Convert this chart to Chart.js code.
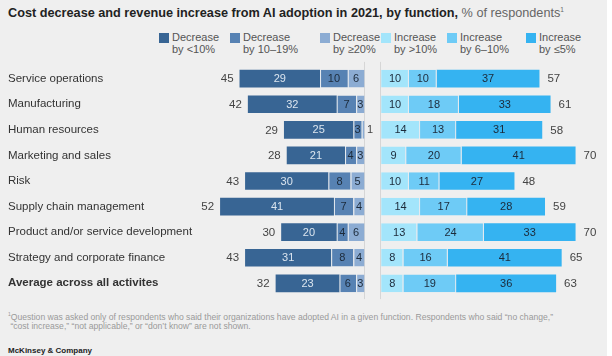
<!DOCTYPE html>
<html lang="en">
<head>
<meta charset="UTF-8">
<title>Cost decrease and revenue increase from AI adoption in 2021</title>
<script src="https://cdn.jsdelivr.net/npm/chart.js"></script>
<style>
    html, body { margin: 0; padding: 0; background: #ffffff; }
    .frame {
        position: relative;
        width: 607px;
        height: 356px;
        background: #efefef;
        font-family: 'Liberation Sans', Arial, sans-serif;
        overflow: hidden;
    }
    .title {
        position: absolute; left: 8px; top: 6px;
        font-size: 12.7px; font-weight: bold; color: #222;
        white-space: nowrap;
    }
    .title span { font-weight: normal; color: #666; }
    .title sup { font-size: 6.5px; }
    .legend-item {
        position: absolute; top: 31px;
        font-size: 11px; line-height: 12px; color: #555;
        padding-left: 13px;
    }
    .legend-item i {
        position: absolute; left: 0; top: 2px;
        width: 10px; height: 10px;
    }
    #chartBox { position: absolute; left: 0; top: 56px; width: 607px; height: 250px; }
    .note {
        position: absolute; left: 8px; top: 310px;
        font-size: 8.6px; line-height: 9px; color: #9a9a9a;
        white-space: nowrap;
    }
    .source {
        position: absolute; left: 8px; top: 346px;
        font-size: 8px; font-weight: bold; color: #222;
    }
</style>
</head>
<body>
<div class="frame">
    <div class="title">Cost decrease and revenue increase from AI adoption in 2021, by function, <span>% of respondents<sup>1</sup></span></div>
    <div id="legend"></div>
    <div id="chartBox"><canvas id="grafico"></canvas></div>
    <div class="note"><sup style="font-size:5px">1</sup>Question was asked only of respondents who said their organizations have adopted AI in a given function. Respondents who said “no change,”<br>&nbsp;“cost increase,” “not applicable,” or “don’t know” are not shown.</div>
    <div class="source">McKinsey &amp; Company</div>
</div>

<script>
    // data
    const funciones = [
        'Service operations', 'Manufacturing', 'Human resources', 'Marketing and sales', 'Risk',
        'Supply chain management', 'Product and/or service development', 'Strategy and corporate finance',
        'Average across all activites'
    ];
    const decMenos10 = [29, 32, 25, 21, 30, 41, 20, 31, 23];
    const dec10a19   = [10, 7, 3, 4, 8, 7, 4, 8, 6];
    const dec20mas   = [6, 3, 1, 3, 5, 4, 6, 4, 3];
    const incMas10   = [10, 10, 14, 9, 10, 14, 13, 8, 8];
    const inc6a10    = [10, 18, 13, 20, 11, 17, 24, 16, 19];
    const inc5menos  = [37, 33, 31, 41, 27, 28, 33, 41, 36];
    const totalDec = [45, 42, 29, 28, 43, 52, 30, 43, 32];
    const totalInc = [57, 61, 58, 70, 48, 59, 70, 65, 63];

    const GAP = 3; // half gap between the two sides, in units
    const sep = '#e4eaf0';
    const fuente = '"Liberation Sans", Arial, sans-serif';

    const series = [
        { label: ['Decrease', 'by <10%'],   color: '#386594', txt: '#dbe5ef', data: decMenos10, neg: true, bw: 0 },
        { label: ['Decrease', 'by 10–19%'], color: '#5782b3', txt: '#1c2a3a', data: dec10a19,   neg: true, bw: { left: 1 } },
        { label: ['Decrease', 'by ≥20%'],   color: '#8cacd3', txt: '#1c2a3a', data: dec20mas,   neg: true, bw: { left: 1 } },
        { label: ['Increase', 'by >10%'],   color: '#a3e5fb', txt: '#1c2a3a', data: incMas10,   neg: false, bw: { right: 1 } },
        { label: ['Increase', 'by 6–10%'],  color: '#6ecbf6', txt: '#1c2a3a', data: inc6a10,    neg: false, bw: { right: 1 } },
        { label: ['Increase', 'by ≤5%'],    color: '#35b3f1', txt: '#1c2a3a', data: inc5menos,  neg: false, bw: 0 }
    ];

    // legend in html
    const legendX = [159, 230, 320, 381, 447, 526];
    const legend = document.getElementById('legend');
    series.forEach((s, i) => {
        const d = document.createElement('div');
        d.className = 'legend-item';
        d.style.left = legendX[i] + 'px';
        d.innerHTML = '<i style="background:' + s.color + '"></i>' + s.label[0] + '<br>' + s.label[1].replace('<', '&lt;').replace('>', '&gt;');
        legend.appendChild(d);
    });

    // stacking order from the centre outwards
    const orden = [2, 1, 0, 3, 4, 5];
    const datasets = [
        { data: funciones.map(() => -GAP), backgroundColor: 'rgba(0,0,0,0)', spacer: true },
        { data: funciones.map(() => GAP), backgroundColor: 'rgba(0,0,0,0)', spacer: true }
    ];
    orden.forEach(i => {
        const s = series[i];
        datasets.push({
            data: s.data.map(v => s.neg ? -v : v),
            backgroundColor: s.color,
            borderColor: sep,
            borderWidth: s.bw,
            borderSkipped: false,
            txt: s.txt
        });
    });

    const etiquetas = {
        id: 'etiquetas',
        afterDatasetsDraw(chart) {
            const ctx = chart.ctx;
            const x = chart.scales.x;
            ctx.save();
            ctx.textBaseline = 'middle';
            ctx.font = '11px ' + fuente;
            chart.data.datasets.forEach((ds, di) => {
                if (ds.spacer) return;
                chart.getDatasetMeta(di).data.forEach((el, j) => {
                    const v = Math.abs(ds.data[j]);
                    const w = Math.abs(el.x - el.base);
                    if (w < 8) {
                        ctx.fillStyle = '#444';
                        ctx.textAlign = 'left';
                        ctx.fillText(v, Math.max(el.x, el.base) + 2.5, el.y + 0.5);
                    } else {
                        ctx.fillStyle = ds.txt;
                        ctx.textAlign = 'center';
                        ctx.fillText(v, (el.x + el.base) / 2, el.y + 0.5);
                    }
                });
            });
            ctx.font = '11.5px ' + fuente;
            ctx.fillStyle = '#444';
            const meta = chart.getDatasetMeta(0);
            meta.data.forEach((el, j) => {
                ctx.textAlign = 'right';
                ctx.fillText(totalDec[j], x.getPixelForValue(-(GAP + totalDec[j])) - 6, el.y + 0.5);
                ctx.textAlign = 'left';
                ctx.fillText(totalInc[j], x.getPixelForValue(GAP + totalInc[j]) + 8, el.y + 0.5);
            });
            ctx.restore();
        },
        beforeDatasetsDraw(chart) {
            const ctx = chart.ctx;
            const x = chart.scales.x;
            const area = chart.chartArea;
            ctx.save();
            ctx.strokeStyle = '#d6d6d6';
            ctx.lineWidth = 1;
            [-GAP, GAP].forEach(v => {
                const px = Math.round(x.getPixelForValue(v)) + (v < 0 ? 0.5 : -0.5);
                ctx.beginPath();
                ctx.moveTo(px, area.top - 4);
                ctx.lineTo(px, area.bottom + 3);
                ctx.stroke();
            });
            ctx.restore();
        }
    };

    new Chart(document.getElementById('grafico'), {
        type: 'bar',
        data: { labels: funciones, datasets: datasets },
        options: {
            indexAxis: 'y',
            responsive: true,
            maintainAspectRatio: false,
            animation: false,
            layout: { padding: { left: 8, right: 12, top: 8, bottom: 7 } },
            barPercentage: 0.69,
            categoryPercentage: 1,
            plugins: { legend: { display: false }, tooltip: { enabled: false } },
            scales: {
                x: { stacked: true, min: -60, max: 80, display: false },
                y: {
                    stacked: true,
                    grid: { display: false },
                    border: { display: false },
                    afterFit(scale) { scale.width = 198.2; },
                    ticks: {
                        crossAlign: 'far',
                        color: '#333',
                        font: (c) => ({
                            family: fuente,
                            size: 11.5,
                            weight: c.index === funciones.length - 1 ? 'bold' : 'normal'
                        })
                    }
                }
            }
        },
        plugins: [etiquetas]
    });
</script>
</body>
</html>
